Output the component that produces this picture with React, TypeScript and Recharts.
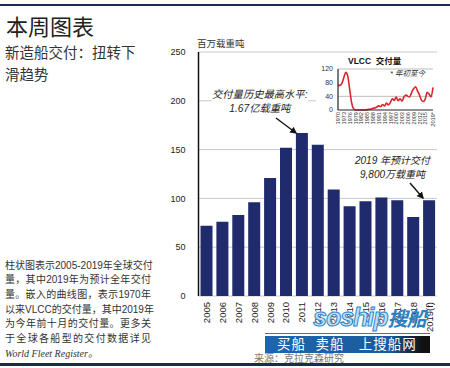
import React from 'react';
import {
  BarChart,
  Bar,
  XAxis,
  YAxis,
  CartesianGrid,
  LineChart,
  Line,
} from 'recharts';

const years = ['2005', '2006', '2007', '2008', '2009', '2010', '2011', '2012', '2013', '2014', '2015', '2016', '2017', '2018', '2019(f)'];
const deliveries = [72, 76, 83, 96, 121, 152, 167, 155, 109, 92, 97, 101, 98, 81, 98];
const yTicks = [0, 50, 100, 150, 200, 250];

const vlccYears = [
  1970, 1971, 1972, 1973, 1974, 1975, 1976, 1977, 1978, 1979,
  1980, 1981, 1982, 1983, 1984, 1985, 1986, 1987, 1988, 1989,
  1990, 1991, 1992, 1993, 1994, 1995, 1996, 1997, 1998, 1999,
  2000, 2001, 2002, 2003, 2004, 2005, 2006, 2007, 2008, 2009,
  2010, 2011, 2012, 2013, 2014, 2015, 2016, 2017, 2018, 2019,
];
const vlccValues = [
  72, 72, 78, 95, 110, 100, 62, 22, 4, 0,
  0, 0, 0, 0, 0, 1, 2, 3, 5, 6,
  9, 12, 10, 16, 12, 20, 15, 22, 33, 28,
  38, 27, 33, 26, 38, 44, 40, 38, 52, 62,
  68, 56, 44, 29, 25, 32, 52, 46, 38, 66,
];
const vlccTicks = [1970, 1973, 1976, 1979, 1982, 1985, 1988, 1991, 1994, 1997, 2000, 2003, 2006, 2009, 2012, 2015, 2019];
const vlccYTicks = [0, 40, 80, 120];

const paragraph = [
  '柱状图表示2005-2019年全球交付',
  '量，其中2019年为预计全年交付',
  '量。嵌入的曲线图，表示1970年',
  '以来VLCC的交付量，其中2019年',
  '为今年前十月的交付量。更多关',
  '于全球各船型的交付数据详见',
];

const barData = years.map((year, i) => ({ year, value: deliveries[i] }));
const vlccData = vlccYears.map((year, i) => ({ year, value: vlccValues[i] }));

const CJK = '"Liberation Sans", "Noto Sans CJK SC", sans-serif';
const NAVY = '#1f2b6c';

const YearTick = ({ x, y, payload }: any) => (
  <text
    x={x}
    y={y}
    transform={`rotate(-90, ${x}, ${y})`}
    textAnchor="end"
    dy={3.5}
    fontSize={9.5}
    fontFamily={CJK}
    fill="#222"
  >
    {payload.value}
  </text>
);

const VlccTick = ({ x, y, payload }: any) => (
  <text
    x={x}
    y={y}
    transform={`rotate(-90, ${x}, ${y})`}
    textAnchor="end"
    dy={2.2}
    fontSize={5.6}
    fontFamily={CJK}
    fill="#333"
  >
    {payload.value === 2019 ? '2019*' : payload.value}
  </text>
);

const abs = (left: number, top: number): React.CSSProperties => ({
  position: 'absolute',
  left,
  top,
  fontFamily: CJK,
  whiteSpace: 'nowrap',
});

export default function App() {
  return (
    <div style={{ position: 'absolute', left: 0, top: 0, width: 450, height: 368, background: '#fff', overflow: 'hidden' }}>
      <div style={{ position: 'absolute', left: 0, top: 4, width: 450, height: 2, background: '#1c2a55' }} />

      <BarChart
        width={450}
        height={368}
        data={barData}
        margin={{ top: 52, right: 13, bottom: 32, left: 150 }}
        barSize={12}
        style={{ position: 'absolute', left: 0, top: 0 }}
      >
        <CartesianGrid vertical={false} stroke="#c8c8c8" />
        <XAxis
          dataKey="year"
          interval={0}
          axisLine={false}
          tickLine={false}
          tickSize={0}
          tickMargin={6}
          height={40}
          tick={<YearTick />}
        />
        <YAxis
          domain={[0, 250]}
          ticks={yTicks}
          width={48.5}
          axisLine={{ stroke: '#111', strokeWidth: 1.5 }}
          tickLine={false}
          tickSize={0}
          tickMargin={13}
          tick={{ fontSize: 9, fill: '#222', fontFamily: CJK }}
        />
        <Bar dataKey="value" fill={NAVY} isAnimationActive={false} />
      </BarChart>

      <div style={{ ...abs(6, 17), fontSize: 22, lineHeight: '22px', color: '#222' }}>本周图表</div>
      <div style={{ ...abs(5, 43), fontSize: 14.5, lineHeight: '21.5px', color: '#333' }}>
        新造船交付：扭转下
        <br />
        滑趋势
      </div>

      <div style={{ ...abs(5, 258.5), width: 146, fontSize: 10, lineHeight: '14.7px', color: '#333', whiteSpace: 'normal' }}>
        {paragraph.map((line, i) => (
          <div key={i} style={{ textAlign: 'justify', textAlignLast: 'justify', whiteSpace: 'nowrap' }}>{line}</div>
        ))}
        <div style={{ fontFamily: '"Liberation Serif", "Noto Sans CJK SC", serif', fontStyle: 'italic' }}>World Fleet Register。</div>
      </div>

      <div style={{ ...abs(197, 38), fontSize: 9.5, lineHeight: '11px', color: '#333' }}>百万载重吨</div>

      <div style={{ position: 'absolute', left: 316, top: 55, width: 129, height: 86, background: '#fff' }} />
      <LineChart
        width={145}
        height={95}
        data={vlccData}
        margin={{ top: 19, right: 12, bottom: 5, left: 18 }}
        style={{ position: 'absolute', left: 300, top: 50 }}
      >
        <CartesianGrid vertical={false} horizontalValues={[40, 80, 120]} stroke="#bdbdbd" />
        <XAxis
          dataKey="year"
          type="number"
          domain={[1970, 2019]}
          ticks={vlccTicks}
          interval={0}
          axisLine={{ stroke: '#222', strokeWidth: 1.2 }}
          tickLine={false}
          tickSize={0}
          tickMargin={2}
          height={30}
          tick={<VlccTick />}
        />
        <YAxis
          domain={[0, 120]}
          ticks={vlccYTicks}
          width={20}
          axisLine={{ stroke: '#222', strokeWidth: 1.2 }}
          tickLine={false}
          tickSize={0}
          tickMargin={5}
          tick={{ fontSize: 7, fill: '#333', fontFamily: CJK }}
        />
        <Line type="monotone" dataKey="value" stroke="#d8262c" strokeWidth={1.6} dot={false} isAnimationActive={false} />
      </LineChart>
      <div style={{ ...abs(348, 56), fontSize: 8.5, lineHeight: '11px', color: '#111', fontWeight: 700 }}>VLCC&nbsp; 交付量</div>
      <div style={{ ...abs(390, 69), fontSize: 7.5, lineHeight: '9px', color: '#333', fontStyle: 'italic' }}>* 年初至今</div>

      <div style={{ ...abs(212, 88), fontSize: 10.3, lineHeight: '14px', color: '#222', fontStyle: 'italic', textAlign: 'center', background: '#fff' }}>
        交付量历史最高水平:
        <br />
        1.67亿载重吨
      </div>
      <div style={{ ...abs(355, 154), fontSize: 10, lineHeight: '14px', color: '#222', fontStyle: 'italic', textAlign: 'center' }}>
        2019 年预计交付
        <br />
        9,800万载重吨
      </div>

      <svg width={450} height={368} style={{ position: 'absolute', left: 0, top: 0, pointerEvents: 'none' }}>
        <defs>
          <marker id="ah" viewBox="0 0 10 10" refX="8" refY="5" markerWidth="5" markerHeight="5" orient="auto">
            <path d="M0,0 L10,5 L0,10 z" fill="#111" />
          </marker>
        </defs>
        <line x1={276} y1={118} x2={296} y2={133} stroke="#111" strokeWidth={1.4} markerEnd="url(#ah)" />
        <line x1={410} y1={183} x2={423} y2={198} stroke="#111" strokeWidth={1.4} markerEnd="url(#ah)" />
      </svg>

      <div style={{ ...abs(254, 353), fontSize: 10, lineHeight: '11px', color: '#777' }}>来源：克拉克森研究</div>
      <div style={{ ...abs(313, 303), fontSize: 25, lineHeight: '28px', fontStyle: 'italic', fontWeight: 700, color: '#bfe0f7', WebkitTextStroke: '1px #2d86c8', letterSpacing: -1 }}>
        soship<span style={{ color: '#2d7fc0', WebkitTextStroke: '0px', fontSize: 20 }}>搜船</span>
      </div>
      <div style={{ position: 'absolute', left: 265, top: 333, width: 165, height: 1, background: '#2d7fc0' }} />
      <div style={{ position: 'absolute', left: 265, top: 336, width: 165, height: 17, background: 'linear-gradient(90deg, #1c66ad 0%, #1a5c9c 75%, #111 95%)' }} />
      <div style={{ ...abs(277, 336), fontSize: 13.5, lineHeight: '17px', color: '#fff', letterSpacing: 1 }}>买船&nbsp;&nbsp;卖船&nbsp;&nbsp;&nbsp;上搜船网</div>

      <div style={{ position: 'absolute', left: 0, top: 363, width: 450, height: 3, background: '#1c2a55' }} />
    </div>
  );
}
